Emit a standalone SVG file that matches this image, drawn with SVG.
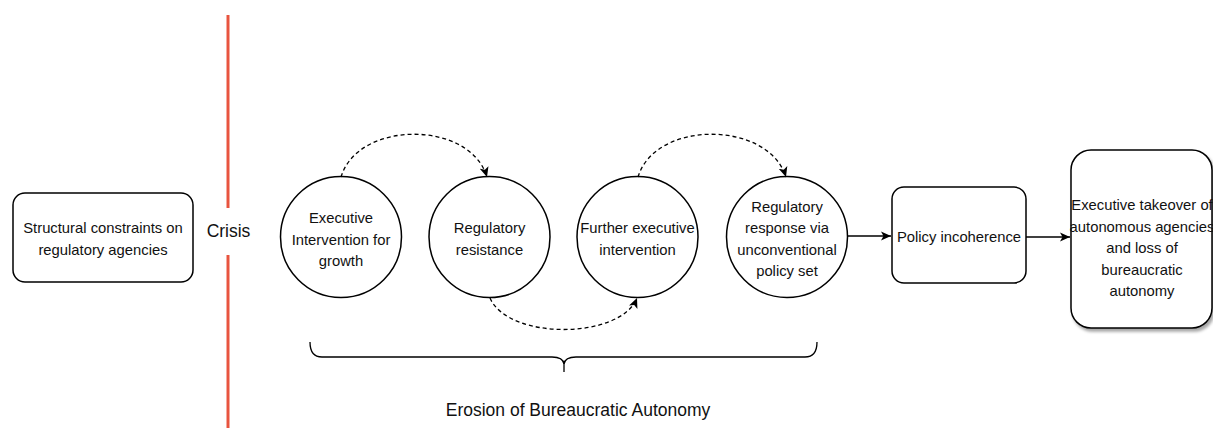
<svg xmlns="http://www.w3.org/2000/svg" width="1213" height="428" viewBox="0 0 1213 428">
<style>
  .node { fill: #ffffff; stroke: #000000; stroke-width: 1.5; }
  .t { font-family: "Liberation Sans", Arial, sans-serif; font-size: 14.8px; fill: #111111; text-anchor: middle; }
  .big { font-family: "Liberation Sans", Arial, sans-serif; font-size: 17.5px; fill: #111111; text-anchor: middle; }
  .solid { fill: none; stroke: #000000; stroke-width: 1.3; }
  .dash { fill: none; stroke: #000000; stroke-width: 1.3; stroke-dasharray: 4 3; }
  .crisis { stroke: #E8543F; stroke-width: 3; fill: none; }
</style>
<defs>
  <marker id="arrow" viewBox="0 0 10 10" refX="10" refY="5" markerWidth="10" markerHeight="10" markerUnits="userSpaceOnUse" orient="auto">
    <path d="M0,0.5 L10,5 L0,9.5 L2.5,5 Z" fill="#000000"/>
  </marker>
  <filter id="shadow" x="-10%" y="-10%" width="130%" height="130%">
    <feDropShadow dx="2" dy="3" stdDeviation="1.5" flood-color="#000000" flood-opacity="0.35"/>
  </filter>
</defs>

<g id="crisis-line">
  <line class="crisis" x1="228" y1="15" x2="228" y2="208"/>
  <line class="crisis" x1="228" y1="255" x2="228" y2="428"/>
  <text class="big" x="228.5" y="237">Crisis</text>
</g>

<g id="node-structural">
  <rect class="node" x="13" y="193" width="180" height="89" rx="12"/>
  <text class="t" x="103" y="233">Structural constraints on</text>
  <text class="t" x="103" y="255">regulatory agencies</text>
</g>

<g id="node-exec-intervention">
  <circle class="node" cx="341" cy="237" r="60.5"/>
  <text class="t" x="341" y="223">Executive</text>
  <text class="t" x="341" y="244.5">Intervention for</text>
  <text class="t" x="341" y="266">growth</text>
</g>

<g id="node-reg-resistance">
  <circle class="node" cx="489.5" cy="237" r="60.5"/>
  <text class="t" x="489.5" y="233">Regulatory</text>
  <text class="t" x="489.5" y="254.5">resistance</text>
</g>

<g id="node-further-exec">
  <circle class="node" cx="637.5" cy="237" r="60.5"/>
  <text class="t" x="637.5" y="233">Further executive</text>
  <text class="t" x="637.5" y="254.5">intervention</text>
</g>

<g id="node-reg-response">
  <circle class="node" cx="787" cy="237" r="60.5"/>
  <text class="t" x="787" y="212">Regulatory</text>
  <text class="t" x="787" y="233">response via</text>
  <text class="t" x="787" y="254.5">unconventional</text>
  <text class="t" x="787" y="276">policy set</text>
</g>

<g id="node-policy-incoherence">
  <rect class="node" x="892" y="187" width="134" height="96" rx="12"/>
  <text class="t" x="959" y="242">Policy incoherence</text>
</g>

<g id="node-takeover">
  <rect class="node" x="1071" y="150" width="141" height="178" rx="20" filter="url(#shadow)"/>
  <text class="t" x="1142" y="210">Executive takeover of</text>
  <text class="t" x="1142" y="231.5">autonomous agencies</text>
  <text class="t" x="1142" y="253">and loss of</text>
  <text class="t" x="1142" y="274.5">bureaucratic</text>
  <text class="t" x="1142" y="296">autonomy</text>
</g>

<g id="connectors">
  <path class="dash" d="M341,177 C358,120 470,120 487,177" marker-end="url(#arrow)"/>
  <path class="dash" d="M490,298 C508,340 620,340 637,298" marker-end="url(#arrow)"/>
  <path class="dash" d="M638,177 C655,120 768,120 786,177" marker-end="url(#arrow)"/>
  <path class="solid" d="M847.5,236 L891,236" marker-end="url(#arrow)"/>
  <path class="solid" d="M1026,237 L1070,237" marker-end="url(#arrow)"/>
</g>

<g id="brace-erosion">
  <path class="solid" d="M310,342 Q310,357 322,357 L552,357 Q563,357 564,364 Q565,357 576,357 L805,357 Q817,357 817,342"/>
  <path class="solid" d="M564,363 L564,372"/>
  <text class="big" x="578" y="416">Erosion of Bureaucratic Autonomy</text>
</g>
</svg>
